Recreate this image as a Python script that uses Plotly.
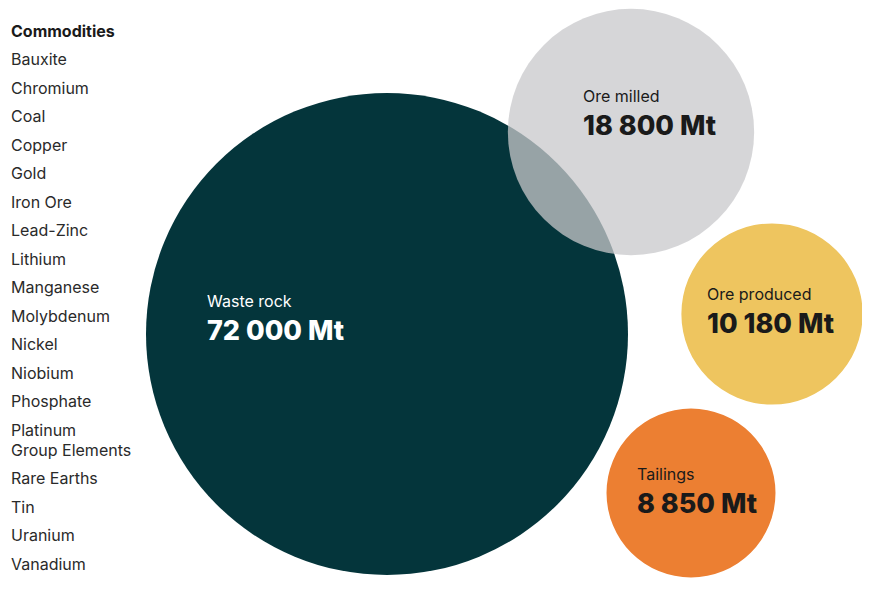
import plotly.graph_objects as go
import math

# ---- data ----
flows = ["Waste rock", "Ore milled", "Ore produced", "Tailings"]
values_mt = [72000, 18800, 10180, 8850]
value_labels = ["72 000 Mt", "18 800 Mt", "10 180 Mt", "8 850 Mt"]
commodities = ["Bauxite", "Chromium", "Coal", "Copper", "Gold", "Iron Ore", "Lead-Zinc",
               "Lithium", "Manganese", "Molybdenum", "Nickel", "Niobium", "Phosphate",
               "Platinum<br>Group Elements", "Rare Earths", "Tin", "Uranium", "Vanadium"]
legend_title = "Commodities"

# ---- layout / style ----
W, H = 870, 594
OFF = 8  # page body margin compensation
R_MAX = 241  # radius (px) of the largest circle; others scaled by area
centers = [(387, 334), (631, 132), (772, 314), (691, 493)]
fills = ["#04353B", "rgba(200,200,203,0.75)", "#EEC55F", "#EC7F32"]
text_colors = ["white", "#1a1a1a", "#1a1a1a", "#1a1a1a"]
label_pos = [(208, 301), (584, 96), (708, 294), (638, 474)]
FONT = "Inter"

fig = go.Figure()
fig.add_trace(go.Scatter(x=[OFF, W], y=[OFF, H], mode="markers", marker=dict(opacity=0),
                         hoverinfo="skip", showlegend=False))

vmax = max(values_mt)
for name, v, (cx, cy), fc in zip(flows, values_mt, centers, fills):
    r = R_MAX * math.sqrt(v / vmax)
    fig.add_shape(type="circle", xref="x", yref="y", x0=cx - r, x1=cx + r, y0=cy - r, y1=cy + r,
                  fillcolor=fc, line=dict(width=0), layer="above")

for name, lab, (lx, ly), tc in zip(flows, value_labels, label_pos, text_colors):
    fig.add_annotation(x=lx, y=ly, text=name, showarrow=False, xanchor="left", yanchor="middle",
                       xshift=-3, font=dict(family=FONT, size=16, color=tc))
    fig.add_annotation(x=lx, y=ly + 29, text=lab, showarrow=False, xanchor="left", yanchor="middle",
                       xshift=-3, font=dict(family=FONT, size=27, color=tc, weight=800))

# legend list
fig.add_annotation(x=12, y=31, text=legend_title, showarrow=False, xanchor="left", yanchor="middle",
                   xshift=-3, font=dict(family=FONT, size=16, color="#1a1a1a", weight=700))
y = 59
step = 28.5
line_gap = 20
for c in commodities:
    for part in c.split("<br>"):
        fig.add_annotation(x=12, y=y, text=part, showarrow=False, xanchor="left", yanchor="middle",
                           xshift=-3, font=dict(family=FONT, size=16, color="#2a2a2a"))
        y += line_gap
    y += step - line_gap

fig.update_xaxes(range=[OFF, W], visible=False, fixedrange=True)
fig.update_yaxes(range=[H, OFF], visible=False, fixedrange=True)
fig.update_layout(width=W - OFF, height=H - OFF, margin=dict(l=0, r=0, t=0, b=0),
                  paper_bgcolor="white", plot_bgcolor="white", showlegend=False)
fig.write_html("out.html")
